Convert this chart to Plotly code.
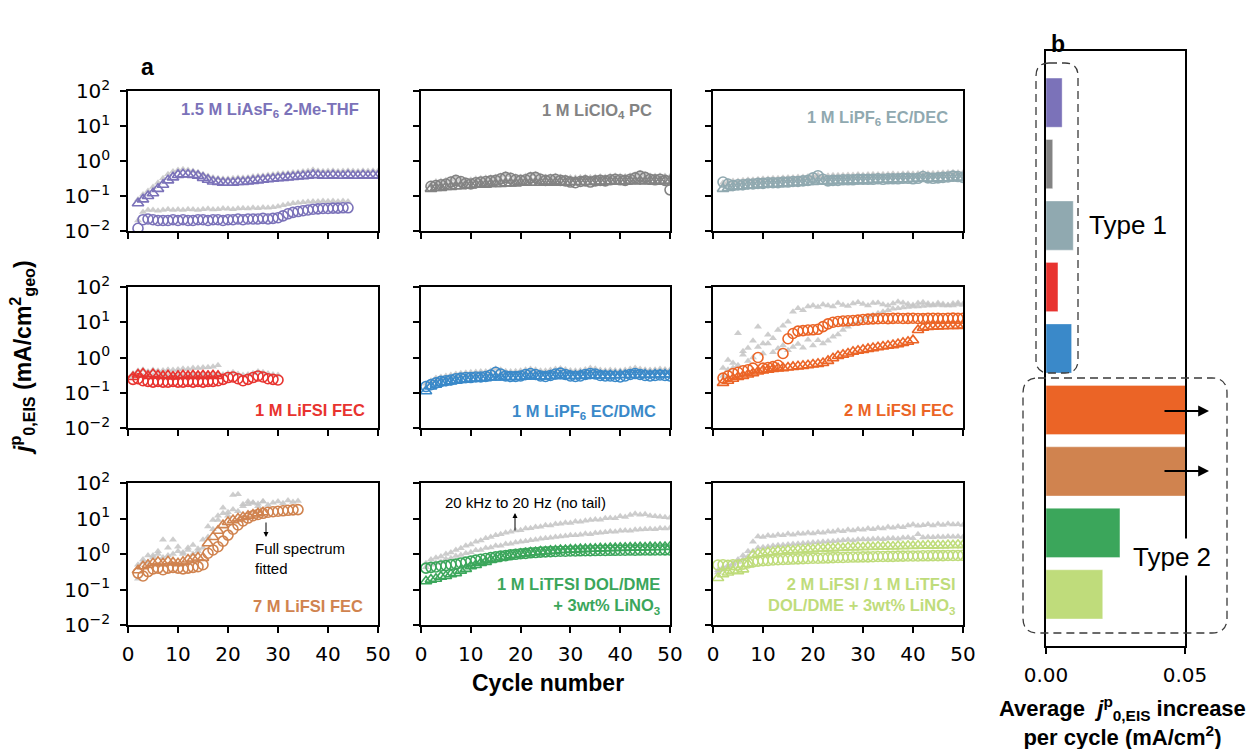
import plotly.graph_objects as go

W, H = 1253, 749

# ---------------- panel a : j0 (mA/cm2) per cycle ----------------
# 1.5 M LiAsF6 2-Me-THF
asf6_tri_cyc = list(range(2, 51))
asf6_tri = [0.062, 0.08, 0.10, 0.12, 0.16, 0.21, 0.28, 0.34, 0.40, 0.42, 0.41, 0.40, 0.38, 0.33, 0.29, 0.26, 0.25,
            0.24, 0.24, 0.24, 0.25, 0.25, 0.26, 0.27, 0.28, 0.29, 0.30, 0.31, 0.32, 0.33, 0.34, 0.35, 0.36, 0.37,
            0.38, 0.40, 0.39, 0.38, 0.38, 0.39, 0.38, 0.38, 0.39, 0.38, 0.38, 0.39, 0.38, 0.39, 0.38]
asf6_tri_gray = [0.08, 0.11, 0.14, 0.18, 0.24, 0.32, 0.42, 0.5, 0.55, 0.58, 0.55, 0.52, 0.48, 0.42, 0.37, 0.34, 0.32,
                 0.31, 0.31, 0.32, 0.33, 0.33, 0.34, 0.36, 0.37, 0.38, 0.40, 0.41, 0.43, 0.44, 0.45, 0.47, 0.48, 0.50,
                 0.52, 0.56, 0.53, 0.51, 0.52, 0.53, 0.51, 0.52, 0.53, 0.52, 0.51, 0.53, 0.52, 0.53, 0.52]
asf6_circ_cyc = list(range(2, 45))
asf6_circ = [0.012, 0.021, 0.022, 0.021, 0.020, 0.020, 0.020, 0.021, 0.020, 0.021, 0.020, 0.020, 0.021, 0.021, 0.020,
             0.021, 0.021, 0.020, 0.021, 0.021, 0.022, 0.021, 0.022, 0.022, 0.022, 0.023, 0.022, 0.023, 0.024, 0.027,
             0.031, 0.034, 0.036, 0.038, 0.040, 0.042, 0.043, 0.044, 0.044, 0.045, 0.045, 0.046, 0.046]
asf6_circ_gray = [0.02, 0.035, 0.04, 0.04, 0.038, 0.04, 0.042, 0.04, 0.041, 0.04, 0.042, 0.041, 0.04, 0.042, 0.043,
                  0.041, 0.042, 0.044, 0.043, 0.042, 0.044, 0.045, 0.044, 0.046, 0.045, 0.047, 0.046, 0.048, 0.05,
                  0.054, 0.058, 0.062, 0.064, 0.066, 0.068, 0.07, 0.07, 0.072, 0.071, 0.072, 0.07, 0.072, 0.07]

# 1 M LiClO4 PC
clo4_tri_cyc = list(range(2, 51))
clo4_tri = [0.16, 0.17, 0.17, 0.18, 0.18, 0.19, 0.19, 0.2, 0.2, 0.21, 0.21, 0.21, 0.22, 0.22, 0.22, 0.23, 0.23, 0.23,
            0.24, 0.24, 0.24, 0.24, 0.24, 0.25, 0.24, 0.24, 0.25, 0.24, 0.25, 0.25, 0.25, 0.25, 0.25, 0.26, 0.25,
            0.26, 0.26, 0.26, 0.26, 0.26, 0.27, 0.26, 0.27, 0.26, 0.27, 0.27, 0.26, 0.27, 0.27]
clo4_tri_gray = [0.2, 0.22, 0.23, 0.23, 0.24, 0.25, 0.25, 0.26, 0.26, 0.27, 0.27, 0.28, 0.28, 0.29, 0.29, 0.3, 0.3,
                 0.3, 0.31, 0.31, 0.31, 0.31, 0.32, 0.32, 0.31, 0.32, 0.32, 0.32, 0.33, 0.32, 0.33, 0.33, 0.33, 0.33,
                 0.34, 0.33, 0.34, 0.34, 0.34, 0.35, 0.34, 0.35, 0.34, 0.35, 0.35, 0.34, 0.35, 0.35, 0.35]
clo4_circ_cyc = list(range(2, 51))
clo4_circ = [0.19, 0.2, 0.21, 0.22, 0.25, 0.28, 0.26, 0.23, 0.22, 0.24, 0.25, 0.26, 0.27, 0.28, 0.31, 0.34, 0.32, 0.29,
             0.28, 0.29, 0.33, 0.34, 0.3, 0.28, 0.29, 0.3, 0.28, 0.27, 0.25, 0.24, 0.26, 0.27, 0.25, 0.27, 0.28,
             0.27, 0.29, 0.3, 0.29, 0.28, 0.3, 0.33, 0.37, 0.34, 0.3, 0.29, 0.3, 0.28, 0.15]
clo4_circ_gray = [0.22, 0.26, 0.27, 0.28, 0.3, 0.33, 0.3, 0.28, 0.29, 0.31, 0.32, 0.33, 0.34, 0.35, 0.38, 0.42, 0.39,
                  0.36, 0.35, 0.37, 0.41, 0.42, 0.37, 0.35, 0.36, 0.37, 0.35, 0.34, 0.33, 0.33, 0.34, 0.35, 0.34,
                  0.35, 0.36, 0.35, 0.37, 0.38, 0.37, 0.36, 0.38, 0.41, 0.45, 0.41, 0.38, 0.37, 0.38, 0.37, 0.36]

# 1 M LiPF6 EC/DEC
dec_tri_cyc = list(range(2, 51))
dec_tri = [0.16, 0.17, 0.18, 0.18, 0.19, 0.2, 0.2, 0.21, 0.21, 0.22, 0.22, 0.22, 0.23, 0.23, 0.24, 0.24, 0.24, 0.25,
           0.25, 0.26, 0.26, 0.26, 0.27, 0.27, 0.27, 0.27, 0.28, 0.28, 0.28, 0.28, 0.29, 0.29, 0.29, 0.29, 0.3, 0.3,
           0.3, 0.3, 0.31, 0.31, 0.31, 0.31, 0.31, 0.32, 0.32, 0.32, 0.32, 0.33, 0.33]
dec_tri_gray = [0.24, 0.26, 0.27, 0.27, 0.28, 0.29, 0.29, 0.3, 0.31, 0.31, 0.32, 0.32, 0.33, 0.34, 0.34, 0.35, 0.35,
                0.36, 0.37, 0.4, 0.37, 0.38, 0.39, 0.39, 0.39, 0.4, 0.4, 0.41, 0.4, 0.41, 0.42, 0.41, 0.42, 0.42,
                0.43, 0.42, 0.43, 0.44, 0.43, 0.44, 0.46, 0.44, 0.45, 0.45, 0.46, 0.47, 0.48, 0.47, 0.46]
dec_circ_cyc = list(range(2, 51))
dec_circ = [0.25, 0.22, 0.2, 0.21, 0.21, 0.22, 0.22, 0.23, 0.23, 0.24, 0.24, 0.24, 0.25, 0.25, 0.26, 0.26, 0.27, 0.28,
            0.33, 0.38, 0.3, 0.27, 0.28, 0.28, 0.29, 0.29, 0.29, 0.3, 0.3, 0.3, 0.3, 0.31, 0.3, 0.31, 0.31, 0.31,
            0.32, 0.32, 0.31, 0.32, 0.36, 0.33, 0.32, 0.33, 0.34, 0.35, 0.37, 0.36, 0.34]
dec_circ_gray = [0.2, 0.21, 0.22, 0.23, 0.23, 0.24, 0.25, 0.25, 0.26, 0.26, 0.27, 0.27, 0.28, 0.28, 0.29, 0.29, 0.3,
                 0.31, 0.34, 0.36, 0.32, 0.32, 0.33, 0.33, 0.34, 0.34, 0.34, 0.35, 0.35, 0.35, 0.36, 0.36, 0.36,
                 0.36, 0.37, 0.37, 0.37, 0.38, 0.37, 0.38, 0.4, 0.39, 0.38, 0.39, 0.4, 0.41, 0.42, 0.41, 0.4]

# 1 M LiFSI FEC
fec1_tri_cyc = list(range(1, 19))
fec1_tri = [0.28, 0.33, 0.35, 0.3, 0.34, 0.31, 0.3, 0.31, 0.29, 0.3, 0.31, 0.3, 0.31, 0.3, 0.31, 0.3, 0.31, 0.3]
fec1_tri_gray = [0.35, 0.42, 0.45, 0.4, 0.44, 0.42, 0.43, 0.45, 0.44, 0.46, 0.48, 0.47, 0.5, 0.5, 0.52, 0.53, 0.55,
                 0.6]
fec1_circ_cyc = list(range(1, 31))
fec1_circ = [0.24, 0.25, 0.22, 0.21, 0.2, 0.21, 0.2, 0.2, 0.21, 0.2, 0.2, 0.21, 0.2, 0.21, 0.2, 0.21, 0.21, 0.22,
             0.24, 0.27, 0.28, 0.25, 0.22, 0.24, 0.27, 0.3, 0.28, 0.25, 0.24, 0.23]
fec1_circ_gray = [0.28, 0.3, 0.3, 0.3, 0.31, 0.3, 0.31, 0.3, 0.31, 0.31, 0.3, 0.31, 0.32, 0.31, 0.32, 0.32, 0.31,
                  0.32, 0.33, 0.36, 0.38, 0.34, 0.32, 0.33, 0.36, 0.4, 0.38, 0.35, 0.33, 0.32]

# 1 M LiPF6 EC/DMC
dmc_tri_cyc = list(range(1, 51))
dmc_tri = [0.11, 0.15, 0.17, 0.19, 0.2, 0.21, 0.22, 0.23, 0.24, 0.25, 0.25, 0.26, 0.26, 0.27, 0.27, 0.27, 0.28, 0.28,
           0.28, 0.28, 0.29, 0.29, 0.29, 0.29, 0.29, 0.3, 0.3, 0.3, 0.3, 0.3, 0.3, 0.31, 0.3, 0.31, 0.31, 0.31, 0.31,
           0.31, 0.31, 0.32, 0.32, 0.32, 0.32, 0.32, 0.33, 0.32, 0.33, 0.33, 0.33, 0.33]
dmc_tri_gray = [0.14, 0.19, 0.22, 0.24, 0.26, 0.27, 0.28, 0.29, 0.3, 0.31, 0.32, 0.32, 0.33, 0.33, 0.34, 0.34, 0.35,
                0.35, 0.35, 0.36, 0.36, 0.37, 0.37, 0.37, 0.37, 0.38, 0.38, 0.38, 0.38, 0.38, 0.39, 0.39, 0.39, 0.39,
                0.4, 0.4, 0.4, 0.4, 0.4, 0.41, 0.41, 0.41, 0.41, 0.41, 0.42, 0.42, 0.42, 0.42, 0.43, 0.43]
dmc_circ_cyc = list(range(1, 51))
dmc_circ = [0.15, 0.17, 0.19, 0.21, 0.22, 0.23, 0.25, 0.26, 0.27, 0.27, 0.28, 0.28, 0.29, 0.32, 0.38, 0.34, 0.3, 0.29,
            0.29, 0.3, 0.33, 0.35, 0.33, 0.3, 0.29, 0.31, 0.34, 0.36, 0.33, 0.3, 0.29, 0.3, 0.33, 0.35, 0.34, 0.31,
            0.3, 0.3, 0.29, 0.28, 0.3, 0.33, 0.35, 0.33, 0.31, 0.3, 0.31, 0.32, 0.31, 0.3]
dmc_circ_gray = [0.18, 0.22, 0.26, 0.28, 0.3, 0.32, 0.34, 0.36, 0.37, 0.38, 0.39, 0.4, 0.4, 0.42, 0.48, 0.45, 0.41,
                 0.4, 0.41, 0.42, 0.45, 0.47, 0.45, 0.42, 0.42, 0.44, 0.47, 0.49, 0.46, 0.43, 0.42, 0.43, 0.46, 0.5,
                 0.48, 0.44, 0.43, 0.44, 0.43, 0.42, 0.44, 0.47, 0.5, 0.47, 0.45, 0.44, 0.45, 0.47, 0.46, 0.45]

# 2 M LiFSI FEC
fec2_tri_cyc = list(range(2, 51))
fec2_tri = [0.19, 0.22, 0.25, 0.28, 0.3, 0.33, 0.36, 0.4, 0.43, 0.45, 0.47, 0.49, 0.5, 0.52, 0.54, 0.56, 0.58, 0.6,
            0.63, 0.66, 0.7, 0.8, 0.95, 1.1, 1.2, 1.3, 1.45, 1.55, 1.65, 1.75, 1.85, 1.95, 2.05, 2.15, 2.25, 2.4,
            2.6, 2.8, 3.1, 6.0, 7.0, 7.3, 7.5, 7.6, 7.7, 7.8, 7.8, 7.9, 8.0]
fec2_tri_gray = [0.3, 0.45, 0.5, 0.6, 1.5, 0.8, 1.0, 2.0, 1.3, 2.5, 1.4, 1.8, 2.2, 1.6, 2.0, 2.4, 1.9, 3.2, 2.2, 3.1,
                 2.5, 3.0, 3.9, 4.5, 6.0, 7.5, 9.0, 10, 12, 14, 16, 18, 20, 22, 24, 25, 26, 27, 28, 28, 29, 30, 30,
                 31, 30, 31, 30, 32, 31]
fec2_circ_cyc = list(range(2, 51))
fec2_circ = [0.26, 0.3, 0.35, 0.38, 0.42, 0.45, 0.5, 1.0, 0.5, 0.52, 0.55, 0.6, 1.3, 3.4, 4.8, 5.6, 5.8, 6.0, 6.1,
             6.3, 7.5, 9.0, 10, 10.5, 10.8, 11, 11.2, 11.5, 12, 12.3, 12.5, 12.6, 12.8, 12.7, 12.9, 13, 12.8, 12.9,
             13, 12.8, 12.7, 12.9, 13, 12.9, 12.8, 13, 13.1, 12.9, 13]
fec2_circ_gray = [0.5, 0.85, 0.7, 4.9, 1.2, 1.85, 3, 7.5, 2.5, 4.4, 3.5, 6, 8, 10.4, 20, 25, 22, 28, 30, 27, 32, 30,
                  28, 35, 31, 29, 34, 37, 33, 30, 35, 36, 32, 30, 34, 38, 36, 33, 31, 35, 37, 34, 32, 35, 33, 30,
                  34, 36, 33]

# 7 M LiFSI FEC
fec7_tri_cyc = list(range(2, 28))
fec7_tri = [0.35, 0.45, 0.5, 0.55, 0.6, 0.55, 0.62, 0.58, 0.55, 0.6, 0.7, 0.75, 0.8, 0.78, 2.0, 3.0, 4.5, 6.5, 8.0,
            9.0, 10, 11, 12, 13, 14, 15]
fec7_tri_gray = [0.2, 0.6, 0.9, 0.8, 1.0, 2.5, 0.9, 2.5, 1.2, 1.0, 1.5, 1.8, 1.4, 2.5, 6, 9, 12, 20, 15, 46, 48, 25,
                 30, 28, 22, 30]
fec7_circ_cyc = list(range(2, 35))
fec7_circ = [0.29, 0.24, 0.32, 0.38, 0.4, 0.36, 0.4, 0.42, 0.4, 0.38, 0.4, 0.42, 0.44, 0.5, 1.05, 1.3, 1.6, 2.3, 3.4,
             5.0, 6.6, 8.5, 10.3, 12, 13, 14, 15, 15.5, 16, 16.5, 17, 17.5, 17.8]
fec7_circ_gray = [0.5, 0.7, 0.6, 0.9, 1.2, 0.8, 1.5, 1.0, 1.6, 1.1, 1.3, 1.0, 1.2, 1.5, 3.0, 5.0, 9.0, 14, 12, 18,
                  16, 22, 25, 28, 26, 30, 24, 28, 30, 27, 32, 29, 31]

# 1 M LiTFSI DOL/DME + 3wt% LiNO3
tfsi_tri_cyc = list(range(1, 51))
tfsi_tri = [0.17, 0.19, 0.2, 0.23, 0.24, 0.27, 0.29, 0.34, 0.38, 0.45, 0.49, 0.56, 0.6, 0.68, 0.72, 0.8, 0.84, 0.92,
            0.95, 1.02, 1.04, 1.1, 1.12, 1.17, 1.18, 1.23, 1.24, 1.29, 1.29, 1.33, 1.33, 1.37, 1.37, 1.41, 1.4, 1.44,
            1.43, 1.47, 1.46, 1.5, 1.49, 1.52, 1.51, 1.54, 1.53, 1.56, 1.55, 1.58, 1.57, 1.6]
tfsi_tri_gray = [0.55, 0.7, 0.78, 0.85, 1.0, 1.1, 1.3, 1.45, 1.7, 1.85, 2.2, 2.4, 2.8, 3.0, 3.4, 3.6, 4.0, 4.2, 4.6,
                 4.7, 5.2, 5.3, 5.8, 5.9, 6.5, 6.4, 7.0, 7.1, 7.6, 7.5, 8.2, 8.1, 8.7, 9.0, 9.4, 9.2, 10.1, 10.4,
                 10.2, 11.5, 11.0, 12.5, 13.5, 12.8, 13.2, 12.0, 11.6, 11.2, 10.8, 10.5]
tfsi_circ_cyc = list(range(1, 51))
tfsi_circ = [0.4, 0.42, 0.43, 0.46, 0.47, 0.5, 0.52, 0.56, 0.59, 0.63, 0.67, 0.71, 0.75, 0.79, 0.83, 0.87, 0.9, 0.95,
             0.98, 1.02, 1.04, 1.08, 1.1, 1.13, 1.15, 1.17, 1.18, 1.2, 1.2, 1.22, 1.22, 1.23, 1.24, 1.24, 1.25, 1.26,
             1.26, 1.27, 1.27, 1.28, 1.28, 1.29, 1.28, 1.29, 1.3, 1.29, 1.3, 1.3, 1.31, 1.3]
tfsi_circ_gray = [0.42, 0.5, 0.56, 0.6, 0.72, 0.76, 0.88, 0.93, 1.05, 1.12, 1.28, 1.3, 1.48, 1.52, 1.7, 1.72, 1.9,
                  1.95, 2.1, 2.2, 2.3, 2.45, 2.5, 2.7, 2.8, 2.85, 3.0, 3.1, 3.2, 3.35, 3.4, 3.5, 3.7, 3.6, 3.9, 4.0,
                  4.1, 4.3, 4.2, 4.5, 4.6, 4.5, 4.8, 4.9, 5.0, 5.1, 5.0, 5.3, 5.2, 5.4]

# 2 M LiFSI / 1 M LiTFSI DOL/DME + 3wt% LiNO3
dual_tri_cyc = list(range(1, 51))
dual_tri = [0.21, 0.27, 0.3, 0.34, 0.33, 0.37, 0.52, 0.94, 1.02, 1.04, 1.12, 1.13, 1.22, 1.2, 1.27, 1.26, 1.32, 1.31,
            1.37, 1.35, 1.42, 1.4, 1.46, 1.44, 1.5, 1.48, 1.55, 1.52, 1.57, 1.55, 1.6, 1.58, 1.63, 1.6, 1.66, 1.63,
            1.68, 1.65, 1.7, 1.68, 1.73, 1.7, 1.75, 1.72, 1.77, 1.74, 1.8, 1.76, 1.82, 1.78]
dual_tri_gray = [0.35, 0.42, 0.48, 0.55, 0.7, 0.9, 1.2, 2.2, 3.1, 3.0, 3.3, 3.2, 3.5, 3.4, 3.7, 3.5, 3.8, 3.7, 4.0,
                 3.8, 4.1, 4.0, 4.3, 4.2, 4.6, 4.4, 4.8, 4.6, 5.0, 4.8, 5.2, 5.0, 5.4, 5.2, 5.8, 5.5, 6.0, 5.7, 6.3,
                 6.8, 6.2, 6.5, 6.9, 6.4, 7.0, 6.6, 7.1, 6.8, 6.9, 6.6]
dual_circ_cyc = list(range(1, 51))
dual_circ = [0.49, 0.5, 0.48, 0.5, 0.49, 0.52, 0.56, 0.6, 0.63, 0.65, 0.66, 0.68, 0.69, 0.7, 0.71, 0.72, 0.73, 0.74,
             0.75, 0.76, 0.76, 0.77, 0.78, 0.79, 0.8, 0.8, 0.81, 0.82, 0.82, 0.83, 0.83, 0.84, 0.85, 0.85, 0.86, 0.86,
             0.87, 0.87, 0.88, 0.88, 0.88, 0.89, 0.89, 0.9, 0.9, 0.9, 0.91, 0.91, 0.91, 0.92]
dual_circ_gray = [0.3, 0.36, 0.42, 0.5, 0.6, 0.7, 0.85, 1.2, 1.5, 1.55, 1.6, 1.7, 1.75, 1.8, 1.85, 1.9, 1.95, 2.0,
                  2.05, 2.1, 2.15, 2.2, 2.25, 2.3, 2.35, 2.45, 2.5, 2.4, 2.55, 2.6, 2.55, 2.65, 2.7, 2.6, 2.75, 2.8,
                  2.7, 2.85, 2.9, 2.8, 3.6, 2.9, 3.0, 2.95, 3.05, 3.0, 3.1, 3.05, 3.1, 3.0]

# ---------------- panel b : average increase per cycle ----------------
bar_labels = ["1.5 M LiAsF6 2-Me-THF", "1 M LiClO4 PC", "1 M LiPF6 EC/DEC", "1 M LiFSI FEC", "1 M LiPF6 EC/DMC",
              "2 M LiFSI FEC", "7 M LiFSI FEC", "1 M LiTFSI DOL/DME + 3wt% LiNO3",
              "2 M LiFSI / 1 M LiTFSI DOL/DME + 3wt% LiNO3"]
bar_values = [0.0058, 0.0024, 0.0098, 0.0043, 0.0092, 0.24, 0.52, 0.0266, 0.0204]

y_tickvals = [0.01, 0.1, 1, 10, 100]
y_ticktext = ["10<sup>−2</sup>", "10<sup>−1</sup>", "10<sup>0</sup>", "10<sup>1</sup>", "10<sup>2</sup>"]
x_tickvals = [0, 10, 20, 30, 40, 50]

# ---------------- styling ----------------
C_ASF6, C_CLO4, C_DEC = "#7B72B9", "#838383", "#90A9B0"
C_FEC1, C_DMC, C_FEC2 = "#E8332F", "#3A89C9", "#EB6426"
C_FEC7, C_TFSI, C_DUAL = "#D0834F", "#3BA65B", "#BFDC7B"
GRAY = "rgba(196,196,196,0.85)"
bar_colors = [C_ASF6, C_CLO4, C_DEC, C_FEC1, C_DMC, C_FEC2, C_FEC7, C_TFSI, C_DUAL]

COLS = [(128, 378), (421, 670), (713, 963)]
ROWS = [(91, 231), (287, 428), (483, 625)]
TICK_FONT = dict(family="DejaVu Sans", size=20, color="black")
LBL_FONT = "Liberation Sans, Arial"


def px(x):
    return x / W


def py(y):
    return 1 - y / H


panels = [
    dict(color=C_ASF6, tri=(asf6_tri_cyc, asf6_tri, asf6_tri_gray), circ=(asf6_circ_cyc, asf6_circ, asf6_circ_gray),
         label="1.5 M LiAsF<sub>6</sub> 2-Me-THF", lx=361, ly=110),
    dict(color=C_CLO4, tri=(clo4_tri_cyc, clo4_tri, clo4_tri_gray), circ=(clo4_circ_cyc, clo4_circ, clo4_circ_gray),
         label="1 M LiClO<sub>4</sub> PC", lx=654, ly=111),
    dict(color=C_DEC, tri=(dec_tri_cyc, dec_tri, dec_tri_gray), circ=(dec_circ_cyc, dec_circ, dec_circ_gray),
         label="1 M LiPF<sub>6</sub> EC/DEC", lx=950, ly=118),
    dict(color=C_FEC1, tri=(fec1_tri_cyc, fec1_tri, fec1_tri_gray), circ=(fec1_circ_cyc, fec1_circ, fec1_circ_gray),
         label="1 M LiFSI FEC", lx=367, ly=410),
    dict(color=C_DMC, tri=(dmc_tri_cyc, dmc_tri, dmc_tri_gray), circ=(dmc_circ_cyc, dmc_circ, dmc_circ_gray),
         label="1 M LiPF<sub>6</sub> EC/DMC", lx=658, ly=412),
    dict(color=C_FEC2, tri=(fec2_tri_cyc, fec2_tri, fec2_tri_gray), circ=(fec2_circ_cyc, fec2_circ, fec2_circ_gray),
         label="2 M LiFSI FEC", lx=956, ly=410),
    dict(color=C_FEC7, tri=(fec7_tri_cyc, fec7_tri, fec7_tri_gray), circ=(fec7_circ_cyc, fec7_circ, fec7_circ_gray),
         label="7 M LiFSI FEC", lx=365, ly=606),
    dict(color=C_TFSI, tri=(tfsi_tri_cyc, tfsi_tri, tfsi_tri_gray), circ=(tfsi_circ_cyc, tfsi_circ, tfsi_circ_gray),
         label="1 M LiTFSI DOL/DME<br>+ 3wt% LiNO<sub>3</sub>", lx=662, ly=596),
    dict(color=C_DUAL, tri=(dual_tri_cyc, dual_tri, dual_tri_gray), circ=(dual_circ_cyc, dual_circ, dual_circ_gray),
         label="2 M LiFSI / 1 M LiTFSI<br>DOL/DME + 3wt% LiNO<sub>3</sub>", lx=957, ly=596),
]

fig = go.Figure()
layout = dict(width=W, height=H, margin=dict(l=0, r=0, t=0, b=0, autoexpand=False), paper_bgcolor="white",
              plot_bgcolor="white", showlegend=False)
annotations = []
shapes = []

for i, p in enumerate(panels):
    r, c = divmod(i, 3)
    n = i + 1
    xa, ya = ("x" if n == 1 else f"x{n}"), ("y" if n == 1 else f"y{n}")
    # gray "no tail" fits behind the coloured fits
    for cyc, _, g in (p["tri"], p["circ"]):
        fig.add_trace(go.Scatter(x=cyc, y=g, mode="markers", xaxis=xa, yaxis=ya, cliponaxis=True,
                                 marker=dict(symbol="triangle-up", size=7, color=GRAY, line=dict(width=0))))
    cyc, v, _ = p["tri"]
    fig.add_trace(go.Scatter(x=cyc, y=v, mode="markers", xaxis=xa, yaxis=ya,
                             marker=dict(symbol="triangle-up-open", size=10, color=p["color"],
                                         line=dict(width=1.6, color=p["color"]))))
    cyc, v, _ = p["circ"]
    fig.add_trace(go.Scatter(x=cyc, y=v, mode="markers", xaxis=xa, yaxis=ya,
                             marker=dict(symbol="circle-open", size=10, color=p["color"],
                                         line=dict(width=1.6, color=p["color"]))))

    x0, x1 = COLS[c]
    y0, y1 = ROWS[r]
    common = dict(showline=True, mirror=True, linecolor="black", linewidth=1.5, ticks="outside", ticklen=6,
                  tickwidth=1.5, tickcolor="black", showgrid=False, zeroline=False, tickfont=TICK_FONT,
                  automargin=False)
    layout["xaxis" if n == 1 else f"xaxis{n}"] = dict(
        common, domain=[px(x0), px(x1)], anchor=ya, range=[0, 50], tickvals=x_tickvals,
        showticklabels=(r == 2), ticklabelstandoff=4)
    layout["yaxis" if n == 1 else f"yaxis{n}"] = dict(
        common, domain=[py(y1), py(y0)], anchor=xa, type="log", range=[-2, 2], tickvals=y_tickvals,
        ticktext=y_ticktext, showticklabels=(c == 0), ticklabelstandoff=6)

    annotations.append(dict(x=px(p["lx"]), y=py(p["ly"]), xanchor="right", align="right",
                            text=f"<b>{p['label']}</b>",
                            font=dict(family=LBL_FONT, size=16.5, color=p["color"])))

# ---------------- panel b ----------------
bar_pos = list(range(len(bar_values)))
fig.add_trace(go.Bar(x=bar_values, y=bar_pos, orientation="h", width=0.8, xaxis="x10", yaxis="y10",
                     marker=dict(color=bar_colors, line=dict(width=0.6, color="rgba(255,255,255,0.6)"))))
layout["xaxis10"] = dict(domain=[px(1046), px(1185)], anchor="y10", range=[0, 0.05], tickvals=[0, 0.05],
                         ticktext=["0.00", "0.05"], showline=True, mirror=True, linecolor="black", linewidth=1.5,
                         ticks="outside", ticklen=6, tickwidth=1.5, tickcolor="black", showgrid=False,
                         zeroline=False, tickfont=TICK_FONT, ticklabelstandoff=4, automargin=False)
layout["yaxis10"] = dict(domain=[py(646), py(51)], anchor="x10", range=[8.84, -0.84], showline=True, mirror=True,
                         linecolor="black", linewidth=1.5, ticks="", showticklabels=False, showgrid=False,
                         zeroline=False, automargin=False)


def rounded_box(x0, y0, x1, y1, r):
    X, Y = px, py
    return (f"M {X(x0 + r)},{Y(y0)} L {X(x1 - r)},{Y(y0)} Q {X(x1)},{Y(y0)} {X(x1)},{Y(y0 + r)} "
            f"L {X(x1)},{Y(y1 - r)} Q {X(x1)},{Y(y1)} {X(x1 - r)},{Y(y1)} "
            f"L {X(x0 + r)},{Y(y1)} Q {X(x0)},{Y(y1)} {X(x0)},{Y(y1 - r)} "
            f"L {X(x0)},{Y(y0 + r)} Q {X(x0)},{Y(y0)} {X(x0 + r)},{Y(y0)} Z")


for box in [(1036, 63, 1078, 373, 13), (1023, 378, 1227, 633, 15)]:
    shapes.append(dict(type="path", xref="paper", yref="paper", path=rounded_box(*box),
                       line=dict(color="#3a3a3a", width=1.3, dash="8px,5px"), layer="above"))

txt = dict(family=LBL_FONT, color="black")
annotations += [
    dict(x=px(1128), y=py(225), text="Type 1", font=dict(txt, size=26)),
    dict(x=px(1172), y=py(557), text="Type 2", font=dict(txt, size=26), bgcolor="white", borderpad=3),
    # off-scale bars
    dict(x=px(1209), y=py(411), ax=-46, ay=0, showarrow=True, arrowhead=2, arrowsize=1.2, arrowwidth=1.8,
         arrowcolor="black", text=""),
    dict(x=px(1209), y=py(471), ax=-46, ay=0, showarrow=True, arrowhead=2, arrowsize=1.2, arrowwidth=1.8,
         arrowcolor="black", text=""),
    # panel letters
    dict(x=px(147), y=py(67), text="<b>a</b>", font=dict(txt, size=23)),
    dict(x=px(1058), y=py(44), text="<b>b</b>", font=dict(txt, size=23)),
    # axis titles
    dict(x=px(22), y=py(358), text="<b><i>j</i><sup>p</sup><sub>0,EIS</sub> (mA/cm<sup>2</sup><sub>geo</sub>)</b>",
         textangle=-90, font=dict(txt, size=23)),
    dict(x=px(548), y=py(683), text="<b>Cycle number</b>", font=dict(txt, size=23)),
    dict(x=px(1122), y=py(721),
         text="<b>Average  <i>j</i><sup>p</sup><sub>0,EIS</sub> increase<br>per cycle (mA/cm<sup>2</sup>)</b>",
         font=dict(txt, size=22)),
    # fitting-range notes
    dict(x=px(525), y=py(502), text="20 kHz to 20 Hz (no tail)", font=dict(txt, size=15)),
    dict(x=px(515), y=py(513), ax=0, ay=19, showarrow=True, arrowhead=2, arrowsize=1, arrowwidth=1,
         arrowcolor="black", text=""),
    dict(x=px(253), y=py(558), text="Full spectrum<br>fitted", xanchor="left", align="left",
         font=dict(txt, size=15)),
    dict(x=px(266), y=py(537), ax=0, ay=-16, showarrow=True, arrowhead=2, arrowsize=1, arrowwidth=1,
         arrowcolor="black", text=""),
]
for a in annotations:
    a.setdefault("xref", "paper")
    a.setdefault("yref", "paper")
    a.setdefault("showarrow", False)
    if a.get("showarrow"):
        a.setdefault("axref", "pixel")
        a.setdefault("ayref", "pixel")
    else:
        a.setdefault("xanchor", "center")
        a.setdefault("yanchor", "middle")

layout["annotations"] = annotations
layout["shapes"] = shapes
fig.update_layout(**layout)
fig.write_html("out.html")
